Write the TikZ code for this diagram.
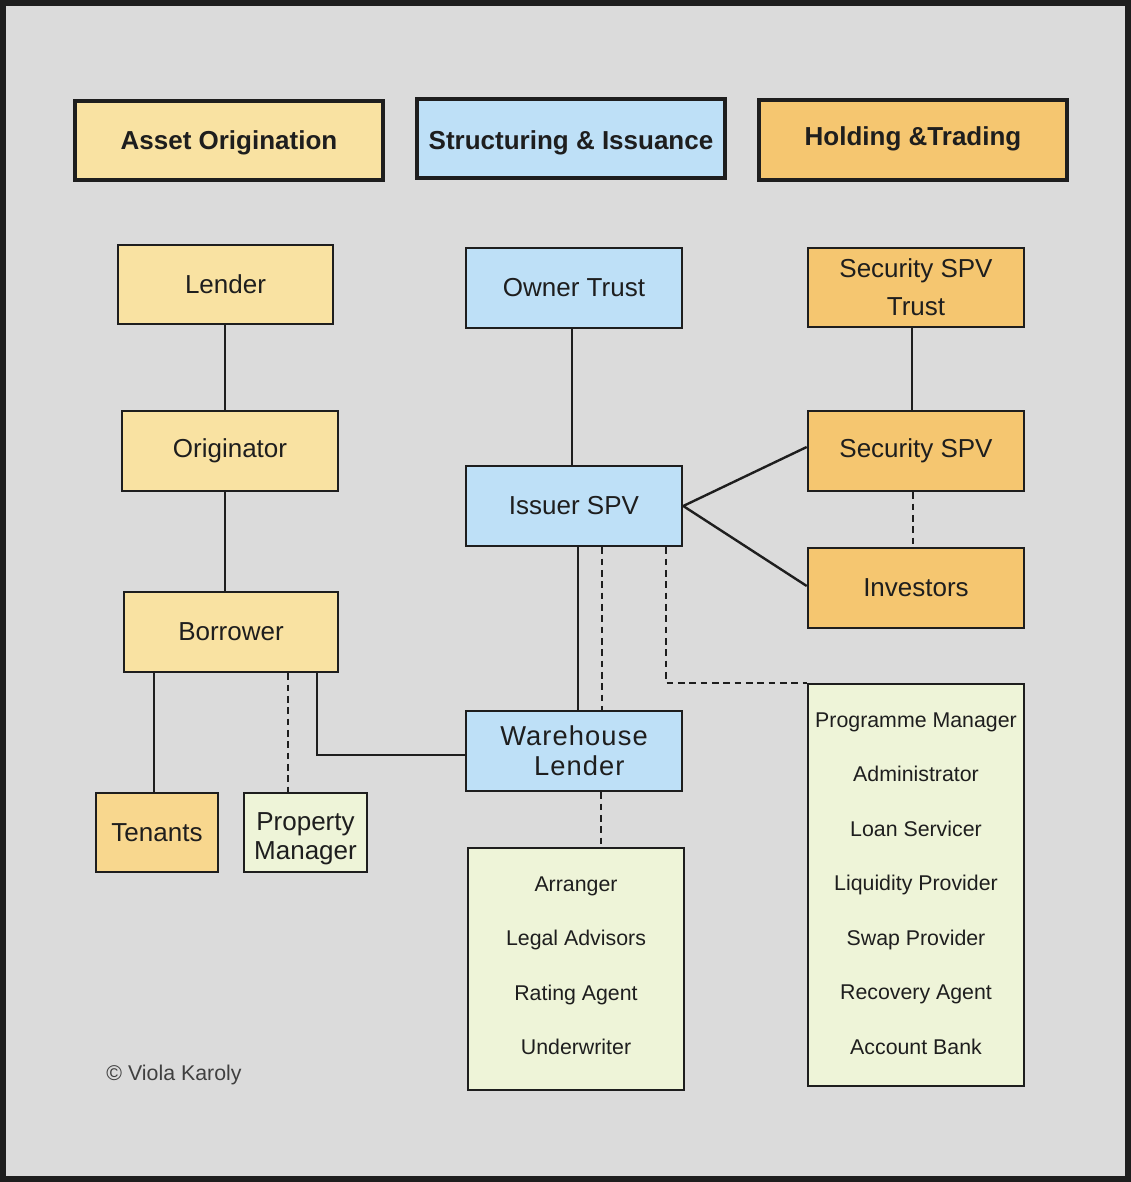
\documentclass[tikz,border=0pt]{standalone}
\usepackage{fontspec}
\setmainfont{Liberation Sans}
\usetikzlibrary{calc}
\definecolor{bggray}{HTML}{DBDBDB}
\definecolor{cyel}{HTML}{F9E2A2}
\definecolor{ctan}{HTML}{F8D78E}
\definecolor{cblue}{HTML}{BEE0F7}
\definecolor{corange}{HTML}{F5C670}
\definecolor{cgreen}{HTML}{EEF4D8}
\definecolor{ink}{HTML}{1E1E1E}
% move text up or down inside a box without changing the box size
\newcommand{\nudge}[2]{\raisebox{#1}[\height][\depth]{#2}}
\begin{document}
\begin{tikzpicture}[x=0.75pt,y=-0.75pt,
  box/.style={draw=ink, line width=1.9pt, inner sep=0pt, align=center,
    text=ink, font=\fontsize{19.5}{28.5}\selectfont},
  hdr/.style={box, line width=2.6pt, font=\bfseries\fontsize{19.5}{24}\selectfont},
  sz/.style 2 args={minimum width=#1*0.75pt, minimum height=#2*0.75pt},
  listbox/.style={box, fill=cgreen, font=\fontsize{16}{40.9}\selectfont},
  conn/.style={draw=ink, line width=1.8pt},
  dconn/.style={conn, dash pattern=on 5pt off 3.5pt}]

% background and frame
\useasboundingbox (0,0) rectangle (1131,1182);
\fill[bggray] (0,0) rectangle (1131,1182);
\draw[ink, line width=4.5pt] (3,3) rectangle (1128,1179);

% column headers
\node[hdr, fill=cyel, sz={308}{79}] (ao) at (229,140.5) {\nudge{-1.5pt}{Asset Origination}};
\node[hdr, fill=cblue, sz={308}{79}] (si) at (571,138.5) {\nudge{-3pt}{Structuring \& Issuance}};
\node[hdr, fill=corange, sz={308}{80}] (ht) at (913,140) {\nudge{1.1pt}{Holding \&Trading}};

% asset origination column
\node[box, fill=cyel, sz={215}{79}] (lender) at (225.5,284.5) {Lender};
\node[box, fill=cyel, sz={216}{80}] (orig) at (230,451) {Originator};
\node[box, fill=cyel, sz={214}{80}] (borr) at (231,632) {Borrower};
\node[box, fill=ctan, sz={122}{79}] (ten) at (157,832.5) {Tenants};
\node[box, fill=cgreen, sz={123}{79}, font=\fontsize{19.5}{22}\selectfont] (pm) at (305.5,832.5)
  {\nudge{-5pt}{\begin{tabular}{@{}c@{}}Property\\Manager\end{tabular}}};

% structuring column
\node[box, fill=cblue, sz={216}{80}] (owner) at (574,288) {Owner Trust};
\node[box, fill=cblue, sz={216}{80}] (issuer) at (574,506) {Issuer SPV};
\node[box, fill=cblue, sz={216}{80}, font=\fontsize{20.5}{22.5}\selectfont] (wh) at (574,751) {\addfontfeature{LetterSpace=4}Warehouse\\\addfontfeature{LetterSpace=4}\hspace{8pt}Lender};
\node[listbox, sz={216}{242}] (arr) at (576,969)
  {\nudge{5.25pt}{\begin{tabular}{@{}c@{}}Arranger\\Legal Advisors\\Rating Agent\\Underwriter\end{tabular}}};

% holding column
\node[box, fill=corange, sz={216}{79}] (sst) at (916,287.5) {Security SPV\\Trust};
\node[box, fill=corange, sz={216}{80}] (sspv) at (916,451) {Security SPV};
\node[box, fill=corange, sz={216}{80}] (inv) at (916,588) {Investors};
\node[listbox, sz={216}{402}] (prog) at (916,885)
  {\nudge{3.75pt}{\begin{tabular}{@{}c@{}}Programme Manager\\Administrator\\Loan Servicer\\Liquidity Provider\\Swap Provider\\Recovery Agent\\Account Bank\end{tabular}}};

% connectors
\draw[conn] ($(lender.south)+(-0.5,0)$) -- ($(lender.south |- orig.north)+(-0.5,0)$);
\draw[conn] ($(lender.south |- orig.south)+(-0.5,0)$) -- ($(lender.south |- borr.north)+(-0.5,0)$);
\draw[conn] ($(borr.south -| ten.north)+(-3,0)$) -- ($(ten.north)+(-3,0)$);
\draw[dconn] ($(borr.south -| pm.north)+(-17.5,0)$) -- ($(pm.north)+(-17.5,0)$);
\draw[conn] ($(borr.south)+(86,0)$) |- ($(wh.west)+(0,4)$);

\draw[conn] ($(owner.south)+(-2,0)$) -- ($(issuer.north)+(-2,0)$);
\draw[conn] ($(issuer.south)+(4,0)$) -- ($(wh.north)+(4,0)$);
\draw[dconn] ($(issuer.south)+(28,0)$) -- ($(wh.north)+(28,0)$);
\draw[dconn] ($(issuer.south)+(92,0)$) |- (prog.north west);
\draw[dconn] ($(wh.south)+(27,0)$) -- ($(arr.north)+(25,0)$);

\draw[conn] ($(sst.south)+(-4,0)$) -- ($(sspv.north)+(-4,0)$);
\draw[dconn] ($(sspv.south)+(-3,0)$) -- ($(inv.north)+(-3,0)$);
\draw[conn] (issuer.east) -- ($(sspv.west)+(0,-4)$);
\draw[conn] (issuer.east) -- ($(inv.west)+(0,-2)$);

% credit line
\node[text=ink!85, font=\fontsize{16}{18}\selectfont] (credit) at (174,1075) {© Viola Karoly};
\end{tikzpicture}
\end{document}
